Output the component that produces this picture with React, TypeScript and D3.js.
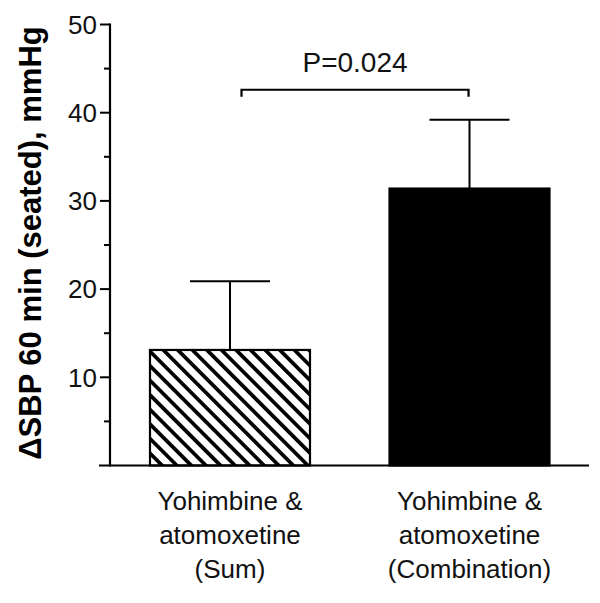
import React from "react";
import * as d3 from "d3";

const categoryKeys = ["sum", "combination"];
const categoryLines = [
  ["Yohimbine &", "atomoxetine", "(Sum)"],
  ["Yohimbine &", "atomoxetine", "(Combination)"],
];
const meanValues = [13.1, 31.4];
const errorValues = [7.8, 7.8];
const majorTicks = [10, 20, 30, 40, 50];
const minorTicks = [5, 15, 25, 35, 45];
const yLabel = "ΔSBP 60 min (seated), mmHg";
const pLabel = "P=0.024";
const bracketValue = 42.6;

const W = 600;
const H = 603;
const FONT = "'Liberation Sans', Arial, Helvetica, sans-serif";

export default function App() {
  const y = d3.scaleLinear().domain([0, 50]).range([465.5, 24.5]);
  const x = d3
    .scaleBand<string>()
    .domain(categoryKeys)
    .range([110, 589.5])
    .paddingInner(0.332)
    .paddingOuter(0.167);
  const bw = x.bandwidth();
  const axisX = 110;
  const baseY = y(0);

  const c0 = (x(categoryKeys[0]) as number) + bw / 2;
  const c1 = (x(categoryKeys[1]) as number) + bw / 2;
  const bL = c0 + bw * 0.072;
  const bR = c1 - bw * 0.006;
  const bY = y(bracketValue);

  return (
    <svg
      width={W}
      height={H}
      style={{ position: "absolute", left: 0, top: 0, background: "#fff" }}
      fontFamily={FONT}
    >
      <defs>
        <pattern
          id="hatch"
          patternUnits="userSpaceOnUse"
          width={10.3}
          height={10.3}
          patternTransform="rotate(-45)"
        >
          <rect x={0} y={0} width={10.3} height={10.3} fill="#fff" />
          <rect x={0} y={0} width={3.7} height={10.3} fill="#000" />
        </pattern>
      </defs>

      {/* bars */}
      {categoryKeys.map((k, i) => {
        const x0 = x(k) as number;
        const top = y(meanValues[i]);
        return (
          <g key={k}>
            <rect
              x={x0}
              y={top}
              width={bw}
              height={baseY - top}
              fill={i === 0 ? "url(#hatch)" : "#000"}
              stroke="#000"
              strokeWidth={2.2}
            />
          </g>
        );
      })}

      {/* error bars */}
      {categoryKeys.map((k, i) => {
        const cx = (x(k) as number) + bw / 2;
        const top = y(meanValues[i]);
        const e = y(meanValues[i] + errorValues[i]);
        return (
          <g key={"e" + k} stroke="#000" strokeWidth={2}>
            <line x1={cx} x2={cx} y1={top} y2={e} />
            <line x1={cx - bw / 4} x2={cx + bw / 4} y1={e} y2={e} />
          </g>
        );
      })}

      {/* axes */}
      <line x1={axisX} x2={axisX} y1={y(50) - 1} y2={baseY + 1} stroke="#000" strokeWidth={2.2} />
      <line x1={99} x2={589} y1={baseY} y2={baseY} stroke="#000" strokeWidth={2.2} />
      {majorTicks.map((t) => (
        <g key={"M" + t}>
          <line x1={axisX - 10} x2={axisX} y1={y(t)} y2={y(t)} stroke="#000" strokeWidth={2} />
          <text
            x={axisX - 13}
            y={y(t)}
            dy="0.36em"
            textAnchor="end"
            fontSize={26}
            fill="#111"
          >
            {t}
          </text>
        </g>
      ))}
      {minorTicks.map((t) => (
        <line key={"m" + t} x1={axisX - 6} x2={axisX} y1={y(t)} y2={y(t)} stroke="#000" strokeWidth={2} />
      ))}

      {/* y label */}
      <text
        transform={`translate(41, 243) rotate(-90)`}
        textAnchor="middle"
        fontSize={31}
        fontWeight="bold"
        fill="#000"
      >
        {yLabel}
      </text>

      {/* category labels */}
      {categoryKeys.map((k, i) => {
        const cx = (x(k) as number) + bw / 2;
        return (
          <text key={"c" + k} textAnchor="middle" fontSize={26} fill="#111">
            {categoryLines[i].map((ln, j) => (
              <tspan key={j} x={cx} y={510 + j * 34}>
                {ln}
              </tspan>
            ))}
          </text>
        );
      })}

      {/* significance bracket */}
      <path
        d={`M${bL},${bY + 7}V${bY}H${bR}V${bY + 7}`}
        fill="none"
        stroke="#000"
        strokeWidth={2.2}
      />
      <text x={(bL + bR) / 2} y={y(bracketValue) - 18} textAnchor="middle" fontSize={28} fill="#111">
        {pLabel}
      </text>
    </svg>
  );
}
